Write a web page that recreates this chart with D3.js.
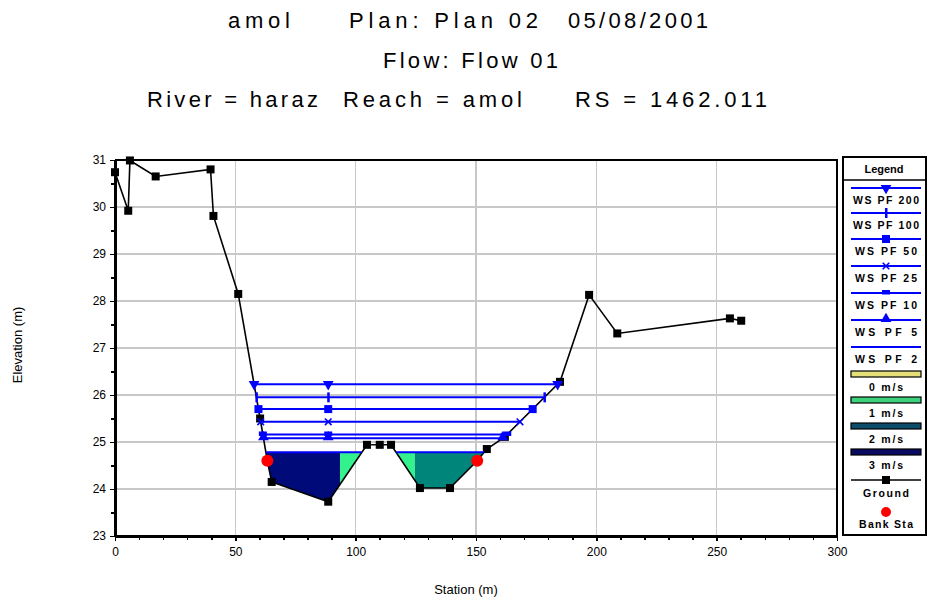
<!DOCTYPE html>
<html>
<head>
<meta charset="utf-8">
<style>
  body { margin: 0; background: #fff; }
  svg { display: block; font-family: 'Liberation Sans', Arial, sans-serif; }
  .axis path, .axis line { stroke: #000; shape-rendering: crispEdges; }
  .axis text { font-size: 12px; fill: #000; }
  .grid line { stroke: #c8c8c8; stroke-width: 1.5; shape-rendering: crispEdges; }
  .title { font-size: 22px; }
  .leg text { font-size: 10.5px; font-weight: bold; }
</style>
</head>
<body>
<script src="https://d3js.org/d3.v7.min.js"></script>
<script>

// ---- data ----
var titleText = ["amol", "Plan: Plan 02", "05/08/2001",
                 "Flow: Flow 01",
                 "River = haraz", "Reach = amol", "RS = 1462.011"];
var titleRow  = [0, 0, 0, 1, 2, 2, 2];

var xTicks = [0, 50, 100, 150, 200, 250, 300];
var yTicks = [23, 24, 25, 26, 27, 28, 29, 30, 31];

// ground (station, elevation)
var groundSta  = [0, 5.5, 6.2, 16.9, 39.7, 40.9, 51.2, 60.3, 63.3, 65.1, 88.6, 104.7, 110, 114.7, 126.7, 139.2, 150.5, 154.5, 162, 184.9, 197, 208.7, 255.5, 260.2];
var groundElev = [30.74, 29.92, 30.99, 30.65, 30.80, 29.81, 28.15, 25.5, 24.6, 24.15, 23.73, 24.94, 24.94, 24.94, 24.02, 24.02, 24.6, 24.85, 25.11, 26.28, 28.13, 27.31, 27.63, 27.58];

// bank stations
var bankSta  = [63.3, 150.5];
var bankElev = [24.6, 24.6];

// water surface profiles
var profiles = ["WS PF 200", "WS PF 100", "WS PF 50", "WS PF 25", "WS PF 10", "WS PF 5", "WS PF 2"];
var wsElev   = [26.23, 25.95, 25.70, 25.43, 25.16, 25.08, 24.78];
var wsMarker = ["triDown", "vbar", "square", "x", "flat", "triUp", "none"];
var markerMidSta = 88.6;

// velocity distribution (for WS PF 2)
var velLabels = ["0 m/s", "1 m/s", "2 m/s", "3 m/s"];
var velLegendColors = ["#e4df78", "#3cd27c", "#0d4d6a", "#0a0a62"];
var velFillColors   = ["#ffff80", "#33f28e", "#00857a", "#000a78"];
var sliceFrom  = [60, 93.5, 114, 124.6];
var sliceTo    = [93.5, 104, 124.6, 156];
var sliceClass = [3, 1, 1, 2];

// ---- chart ----
var W = 929, H = 603;
var x = d3.scaleLinear().domain([0, 300]).range([115, 837]);
var y = d3.scaleLinear().domain([23, 31]).range([536, 160]);

var svg = d3.select("body").append("svg")
    .attr("width", W)
    .attr("height", H);

// titles (start x and stretched width of each piece)
var titleY = [28, 68, 107];
var titleX = [228, 349, 568, 383, 147, 343, 575];
var titleW = [62, 189, 140, 175, 171, 179, 192];
svg.selectAll(".title")
    .data(titleText)
    .enter().append("text")
    .attr("class", "title")
    .attr("x", function(d, i) { return titleX[i]; })
    .attr("y", function(d, i) { return titleY[titleRow[i]]; })
    .attr("textLength", function(d, i) { return titleW[i]; })
    .attr("lengthAdjust", "spacing")
    .text(function(d) { return d; });

// grid
var grid = svg.append("g").attr("class", "grid");
grid.selectAll(".gx")
    .data(xTicks.slice(1, -1))
    .enter().append("line")
    .attr("x1", function(d) { return x(d); })
    .attr("x2", function(d) { return x(d); })
    .attr("y1", y(23))
    .attr("y2", y(31));
grid.selectAll(".gy")
    .data(yTicks.slice(1, -1))
    .enter().append("line")
    .attr("x1", x(0))
    .attr("x2", x(300))
    .attr("y1", function(d) { return y(d); })
    .attr("y2", function(d) { return y(d); });

// clip: everything above the ground line
var groundPts = groundSta.map(function(s, i) { return [s, groundElev[i]]; });
var clipPts = groundPts.concat([[groundSta[groundSta.length - 1], 31], [0, 31]]);
svg.append("clipPath").attr("id", "aboveGround")
  .append("path")
    .attr("d", d3.line().x(function(d) { return x(d[0]); }).y(function(d) { return y(d[1]); })(clipPts) + "Z");

// velocity fills under WS PF 2
var ws2 = wsElev[wsElev.length - 1];
svg.append("g")
    .attr("clip-path", "url(#aboveGround)")
  .selectAll("rect")
    .data(sliceFrom)
    .enter().append("rect")
    .attr("x", function(d) { return x(d); })
    .attr("width", function(d, i) { return x(sliceTo[i]) - x(d); })
    .attr("y", y(ws2))
    .attr("height", y(23) - y(ws2))
    .style("fill", function(d, i) { return velFillColors[sliceClass[i]]; });

// ground line
var line = d3.line()
    .x(function(d) { return x(d[0]); })
    .y(function(d) { return y(d[1]); });

svg.append("path")
    .datum(groundPts)
    .attr("d", line)
    .style("fill", "none")
    .style("stroke", "#000")
    .style("stroke-width", 1.6);

// wet intervals for a water level
function wetIntervals(ws) {
  var out = [], start = null;
  for (var i = 0; i < groundPts.length - 1; i++) {
    var a = groundPts[i], b = groundPts[i + 1];
    var t = (ws - a[1]) / (b[1] - a[1]);
    if (a[1] >= ws && b[1] < ws) start = a[0] + t * (b[0] - a[0]);
    if (a[1] < ws && b[1] >= ws && start !== null) {
      out.push([start, a[0] + t * (b[0] - a[0])]);
      start = null;
    }
  }
  return out;
}

// ground squares
svg.selectAll(".gsq")
    .data(groundPts)
    .enter().append("rect")
    .attr("x", function(d) { return x(d[0]) - 4; })
    .attr("y", function(d) { return y(d[1]) - 4; })
    .attr("width", 8)
    .attr("height", 8)
    .style("fill", "#000");

function drawMarker(g, type, cx, cy) {
  if (type === "triDown") {
    g.append("path").attr("d", d3.symbol().type(d3.symbolTriangle).size(50)())
      .attr("transform", "translate(" + cx + "," + cy + ") rotate(180)").style("fill", "#00f");
  } else if (type === "triUp") {
    g.append("path").attr("d", d3.symbol().type(d3.symbolTriangle).size(50)())
      .attr("transform", "translate(" + cx + "," + (cy - 1) + ")").style("fill", "#00f");
  } else if (type === "square") {
    g.append("rect").attr("x", cx - 4).attr("y", cy - 4).attr("width", 8).attr("height", 8).style("fill", "#00f");
  } else if (type === "vbar") {
    g.append("rect").attr("x", cx - 1).attr("y", cy - 5).attr("width", 2.5).attr("height", 10).style("fill", "#00f");
  } else if (type === "x") {
    g.append("path").attr("d", d3.symbol().type(d3.symbolTimes || d3.symbolCross).size(30)())
      .attr("transform", "translate(" + cx + "," + cy + ")")
      .style("fill", "none").style("stroke", "#00f").style("stroke-width", 1.6);
  } else if (type === "flat") {
    g.append("rect").attr("x", cx - 4).attr("y", cy - 3).attr("width", 8).attr("height", 4.5).style("fill", "#00f");
  }
}

// water surface lines
var wsG = svg.append("g");
profiles.forEach(function(p, i) {
  wetIntervals(wsElev[i]).forEach(function(iv) {
    wsG.append("line")
        .attr("x1", x(iv[0])).attr("x2", x(iv[1]))
        .attr("y1", y(wsElev[i])).attr("y2", y(wsElev[i]))
        .style("stroke", "#0000ff")
        .style("stroke-width", 2);
    if (wsMarker[i] !== "none") {
      [iv[0], markerMidSta, iv[1]].forEach(function(s) {
        if (s >= iv[0] && s <= iv[1]) drawMarker(wsG, wsMarker[i], x(s), y(wsElev[i]));
      });
    }
  });
});

// bank stations
svg.selectAll(".bank")
    .data(bankSta)
    .enter().append("circle")
    .attr("cx", function(d) { return x(d); })
    .attr("cy", function(d, i) { return y(bankElev[i]); })
    .attr("r", 6)
    .style("fill", "#ff0000");

// axes
svg.append("g")
    .attr("class", "axis")
    .attr("transform", "translate(0," + y(23) + ")")
    .call(d3.axisBottom(x).tickValues(xTicks).tickSize(5).tickSizeOuter(0).tickPadding(6));
svg.append("g")
    .attr("class", "axis")
    .attr("transform", "translate(0," + y(23) + ")")
    .call(d3.axisBottom(x).tickValues(d3.range(0, 301, 10)).tickSize(4).tickSizeOuter(0).tickFormat(""));
svg.append("g")
    .attr("class", "axis")
    .attr("transform", "translate(" + x(0) + ",0)")
    .call(d3.axisLeft(y).tickValues(yTicks).tickSize(5).tickSizeOuter(0).tickPadding(4));
svg.append("g")
    .attr("class", "axis")
    .attr("transform", "translate(" + x(0) + ",0)")
    .call(d3.axisLeft(y).tickValues(d3.range(23, 31.01, 0.5)).tickSize(4).tickSizeOuter(0).tickFormat(""));
svg.selectAll(".axis .domain").style("stroke-width", 3);
svg.selectAll(".axis .tick line").style("stroke-width", 1.5);

// top / right frame
svg.append("path")
    .attr("d", "M" + x(0) + "," + y(31) + "H" + x(300) + "V" + y(23))
    .style("fill", "none")
    .style("stroke", "#000")
    .style("stroke-width", 2);

// axis titles
svg.append("text")
    .attr("x", 466).attr("y", 594)
    .attr("text-anchor", "middle")
    .style("font-size", "13px")
    .text("Station (m)");
svg.append("text")
    .attr("transform", "translate(22,345) rotate(-90)")
    .attr("text-anchor", "middle")
    .style("font-size", "13px")
    .text("Elevation (m)");

// legend
var leg = svg.append("g").attr("class", "leg");
leg.append("rect")
    .attr("x", 843).attr("y", 157).attr("width", 83).attr("height", 378)
    .style("fill", "#fff").style("stroke", "#000").style("stroke-width", 2);
leg.append("line")
    .attr("x1", 843).attr("x2", 926).attr("y1", 180).attr("y2", 180)
    .style("stroke", "#000").style("stroke-width", 1.5);
leg.append("text")
    .attr("x", 884).attr("y", 173).attr("text-anchor", "middle")
    .style("font-size", "11px")
    .text("Legend");

var legY = [188, 213, 239, 266, 293, 320, 347, 374, 400, 426, 452, 480, 512];
var lx0 = 851, lx1 = 921, lxc = 886;
function legText(t, yy, w) {
  leg.append("text").attr("x", lxc - w / 2).attr("y", yy)
      .attr("textLength", w).attr("lengthAdjust", "spacing").text(t);
}
profiles.forEach(function(p, i) {
  leg.append("line").attr("x1", lx0).attr("x2", lx1)
      .attr("y1", legY[i]).attr("y2", legY[i])
      .style("stroke", "#00f").style("stroke-width", 2);
  drawMarker(leg, wsMarker[i], lxc, legY[i]);
  legText(p, legY[i] + 16, p.length > 8 ? 66 : 62);
});
velLabels.forEach(function(v, j) {
  var k = profiles.length + j;
  leg.append("rect").attr("x", lx0).attr("y", legY[k] - 3).attr("width", lx1 - lx0).attr("height", 6)
      .style("fill", velLegendColors[j]).style("stroke", "#000").style("stroke-width", 1.2);
  legText(v, legY[k] + 17, 34);
});
var kg = profiles.length + velLabels.length;
leg.append("line").attr("x1", lx0).attr("x2", lx1)
    .attr("y1", legY[kg]).attr("y2", legY[kg])
    .style("stroke", "#000").style("stroke-width", 1.5);
leg.append("rect").attr("x", lxc - 4).attr("y", legY[kg] - 4).attr("width", 8).attr("height", 8).style("fill", "#000");
legText("Ground", legY[kg] + 17, 46);
leg.append("circle").attr("cx", lxc).attr("cy", legY[kg + 1]).attr("r", 5).style("fill", "#f00");
legText("Bank Sta", legY[kg + 1] + 16, 54);

</script>
</body>
</html>
